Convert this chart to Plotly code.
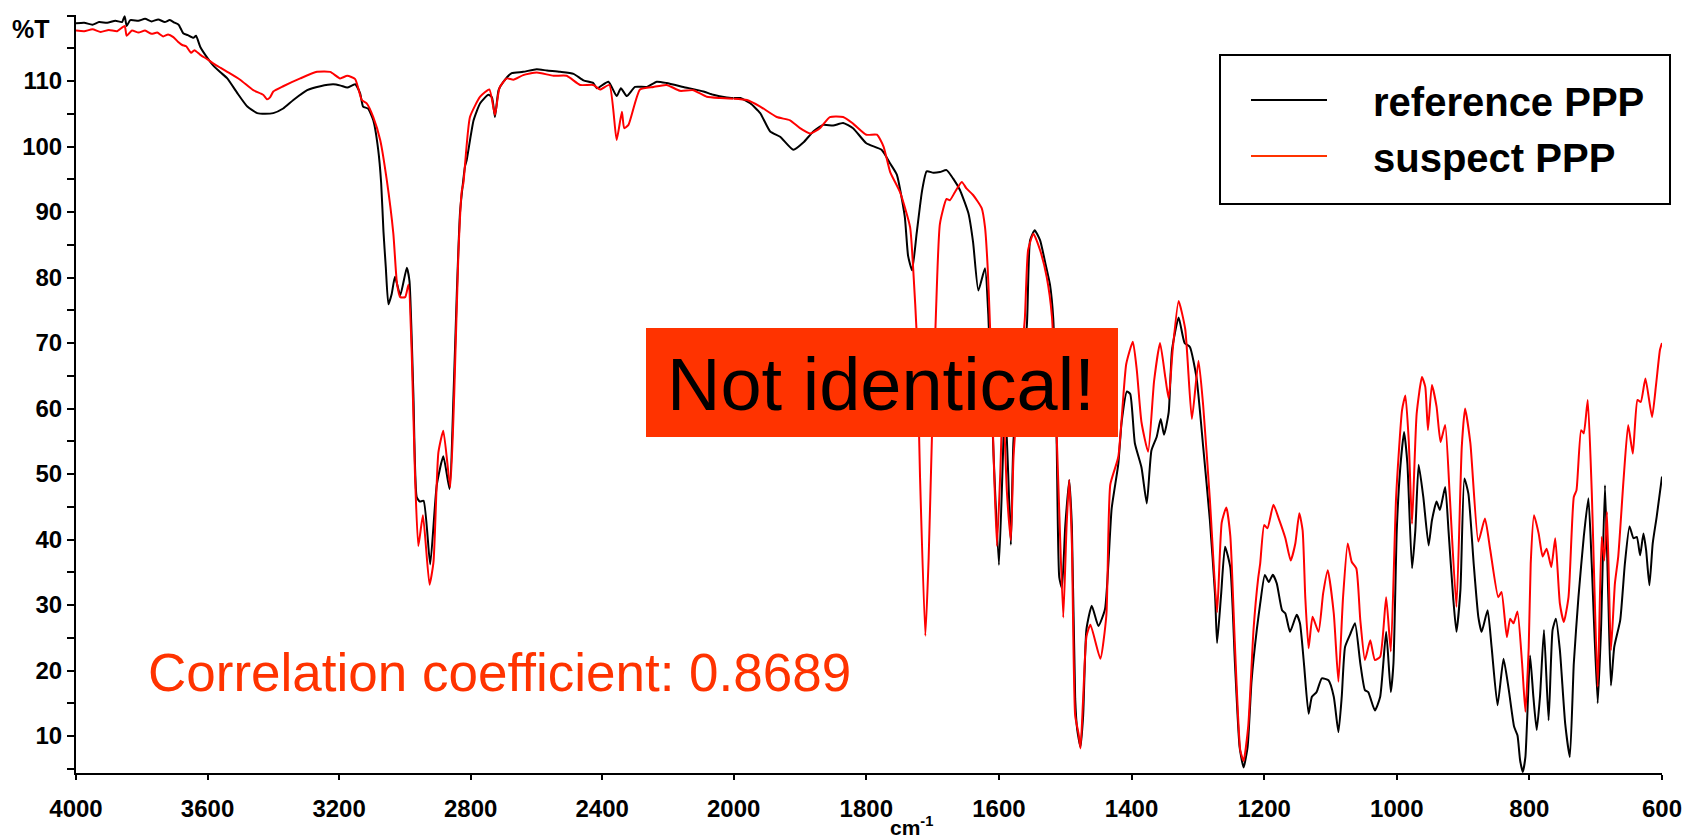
import plotly.graph_objects as go

# ---------------- data (wavenumber cm-1, %T) ----------------
wn_ref = [4000, 3975, 3950, 3930, 3905, 3880, 3860, 3852, 3846, 3835, 3810, 3790, 3770, 3750, 3730, 3715,
          3700, 3688, 3674, 3660, 3643, 3635, 3622, 3600, 3583, 3560, 3540, 3510, 3479, 3449, 3425, 3400,
          3370, 3339, 3297, 3257, 3218, 3195, 3175, 3151, 3136, 3127, 3112, 3096, 3081, 3072, 3065, 3058,
          3050, 3040, 3030, 3014, 2994, 2986, 2974, 2964, 2955, 2943, 2923, 2903, 2883, 2864, 2852, 2842,
          2832, 2817, 2812, 2791, 2771, 2746, 2735, 2726, 2715, 2700, 2675, 2640, 2599, 2568, 2528, 2487,
          2457, 2427, 2416, 2381, 2356, 2343, 2325, 2300, 2264, 2234, 2204, 2153, 2092, 2062, 2021, 2000,
          1990, 1975, 1960, 1945, 1930, 1910, 1895, 1880, 1865, 1850, 1835, 1820, 1800, 1777, 1764, 1754,
          1742, 1737, 1731, 1724, 1716, 1709, 1699, 1689, 1679, 1669, 1659, 1646, 1639, 1631, 1621, 1616,
          1608, 1600, 1594, 1591, 1586, 1582, 1578, 1568, 1558, 1553, 1546, 1538, 1530, 1523, 1518, 1513,
          1509, 1505, 1500, 1494, 1490, 1485, 1482, 1477, 1473, 1468, 1460, 1450, 1440, 1430, 1420, 1415,
          1407, 1402, 1395, 1385, 1377, 1370, 1362, 1356, 1351, 1344, 1339, 1329, 1320, 1312, 1302, 1292,
          1282, 1274, 1271, 1265, 1259, 1251, 1244, 1237, 1231, 1225, 1219, 1211, 1206,
          1199, 1193, 1187, 1181, 1173, 1168, 1161, 1151, 1146, 1140, 1133, 1128, 1121, 1113, 1103, 1095,
          1088, 1083, 1078, 1070, 1063, 1055, 1048, 1043, 1033, 1025, 1016, 1009, 1005, 1000, 995, 989,
          984, 977, 972, 967, 960, 952, 947, 940, 935, 927, 922, 915, 910, 904, 898, 892,
          884, 877, 872, 863, 857, 848, 839, 831, 823, 818, 814, 810, 806, 799, 794, 789,
          784, 778, 771, 765, 760, 754, 746, 739, 733, 726, 718, 711, 706, 697, 692, 686,
          681, 677, 672, 663, 656, 649, 643, 638, 633, 628, 624, 619, 614, 608, 600]
t_ref = [118.8, 118.9, 118.6, 119.0, 118.9, 119.2, 119.0, 119.9, 118.4, 119.3, 119.2, 119.5, 119.1, 119.4, 119.0, 119.3,
         118.9, 118.6, 117.3, 117.0, 116.6, 116.9, 115.2, 113.5, 112.4, 111.3, 110.4, 108.2, 106.1, 105.1, 105.0, 105.1,
         105.8, 107.1, 108.6, 109.2, 109.5, 109.3, 109.0, 109.5, 108.1, 106.1, 105.8, 104.0, 99.5, 94.4, 87.0, 81.6,
         75.9, 77.5, 80.1, 77.3, 81.5, 79.5, 62.1, 46.5, 45.8, 45.9, 36.2, 48.3, 52.7, 47.7, 62.1, 77.6,
         90.1, 97.0, 97.9, 104.0, 106.6, 107.9, 107.5, 104.5, 108.6, 109.9, 111.2, 111.4, 111.8, 111.6, 111.4, 111.1,
         110.1, 109.7, 108.9, 109.9, 107.7, 108.9, 107.7, 109.1, 109.1, 109.9, 109.7, 109.1, 108.4, 107.9, 107.5, 107.4,
         107.4, 106.6, 105.1, 102.3, 101.5, 99.5, 100.6, 102.3, 103.3, 103.2, 103.6, 102.8, 100.5, 99.5, 97.4, 95.7,
         89.3, 83.3, 81.1, 86.8, 93.2, 96.2, 96.0, 96.1, 96.4, 95.1, 93.4, 89.8, 85.4, 78.0, 81.4, 74.3,
         52.7, 36.1, 52.6, 62.0, 50.0, 39.2, 55.2, 65.0, 72.5, 85.7, 87.2, 85.7, 82.2, 78.9, 73.6, 55.2,
         34.2, 32.6, 42.0, 49.1, 42.0, 15.7, 11.0, 8.3, 13.1, 26.3, 29.9, 26.8, 29.4, 44.7, 51.5, 57.9,
         62.6, 62.2, 54.7, 51.0, 45.5, 53.6, 55.7, 58.4, 56.0, 59.4, 68.9, 73.9, 70.0, 69.4, 64.7, 54.2,
         43.1, 31.5, 24.2, 31.5, 38.9, 35.7, 21.0, 8.3, 5.2, 8.3, 18.4, 26.3, 30.2,
         34.6, 33.5, 34.6, 33.3, 29.2, 28.7, 25.9, 28.5, 27.2, 21.1, 13.4, 16.0, 16.7, 18.8, 18.5, 16.0,
         10.6, 16.0, 23.6, 25.6, 27.2, 21.1, 17.0, 16.7, 13.9, 16.0, 25.9, 16.7, 21.1, 41.4, 50.6, 56.4,
         51.6, 35.6, 41.4, 51.4, 46.5, 39.1, 42.9, 45.8, 44.5, 48.0, 41.4, 31.2, 25.9, 32.3, 49.3, 47.0,
         36.3, 28.2, 25.9, 29.2, 23.6, 14.7, 21.8, 17.0, 11.4, 10.1, 6.3, 4.5, 6.8, 22.3, 16.0, 10.9,
         16.0, 26.2, 12.4, 26.2, 27.9, 23.1, 11.9, 6.8, 21.1, 31.2, 40.4, 46.3, 36.3, 15.0, 26.2, 48.3,
         31.2, 17.7, 23.6, 27.7, 36.3, 42.0, 40.2, 40.4, 37.6, 40.9, 38.4, 33.0, 39.4, 43.5, 49.6]

wn_sus = [4000, 3975, 3950, 3925, 3900, 3875, 3852, 3846, 3830, 3810, 3790, 3770, 3753, 3735, 3720, 3704,
          3690, 3677, 3665, 3650, 3640, 3622, 3600, 3583, 3560, 3540, 3501, 3461, 3431, 3419, 3410, 3400,
          3370, 3318, 3267, 3227, 3197, 3175, 3151, 3131, 3116, 3096, 3075, 3055, 3035, 3024, 3014, 2999,
          2989, 2979, 2969, 2959, 2945, 2925, 2913, 2898, 2883, 2862, 2850, 2837, 2827, 2822, 2802, 2771,
          2743, 2726, 2712, 2690, 2670, 2640, 2599, 2548, 2508, 2467, 2427, 2406, 2378, 2356, 2340, 2333,
          2320, 2285, 2244, 2204, 2163, 2123, 2082, 2042, 2000,
          1980, 1960, 1935, 1915, 1900, 1885, 1870, 1855, 1835, 1820, 1800, 1784, 1774, 1764, 1749, 1734,
          1729, 1724, 1719, 1711, 1706, 1701, 1695, 1689, 1679, 1674, 1666, 1656, 1649, 1639, 1626, 1621,
          1617, 1613, 1608, 1603, 1598, 1594, 1588, 1582, 1578, 1568, 1561, 1556, 1548, 1538, 1528, 1520,
          1515, 1510, 1503, 1498, 1494, 1490, 1485, 1480, 1477, 1473, 1468, 1462, 1447, 1438, 1432, 1420,
          1408, 1398, 1392, 1385, 1375, 1366, 1357, 1349, 1344, 1338, 1329, 1319, 1309, 1299, 1292, 1282,
          1271, 1264, 1257, 1251, 1244, 1236, 1231, 1224, 1216, 1209, 1206,
          1200, 1195, 1186, 1178, 1168, 1160, 1153, 1147, 1142, 1138, 1133, 1127, 1118, 1111, 1104, 1095,
          1088, 1081, 1074, 1068, 1061, 1055, 1048, 1040, 1033, 1025, 1016, 1009, 1001, 992, 987, 982,
          977, 970, 962, 957, 953, 947, 940, 934, 927, 920, 910, 902, 897, 889, 877, 867,
          859, 847, 842, 834, 829, 824, 818, 811, 806, 801, 798, 793, 786, 780, 774, 767,
          761, 754, 748, 741, 733, 729, 722, 718, 712, 706, 697, 691, 687, 683, 677, 671,
          666, 658, 651, 644, 637, 632, 625, 615, 609, 603, 600]
t_sus = [117.7, 117.6, 117.9, 117.5, 117.8, 117.6, 118.4, 116.9, 117.7, 117.4, 117.7, 117.2, 117.4, 116.8, 117.1, 116.7,
         116.0, 115.5, 115.3, 114.3, 114.7, 114.0, 113.3, 112.7, 112.0, 111.4, 110.2, 108.6, 107.9, 107.2, 107.5, 108.4,
         109.2, 110.4, 111.4, 111.4, 110.4, 110.8, 110.3, 107.1, 106.6, 104.5, 101.0, 94.9, 86.7, 79.1, 77.0, 77.0,
         78.9, 68.3, 49.6, 39.0, 43.7, 33.1, 36.5, 53.3, 56.6, 48.0, 62.0, 83.9, 93.2, 94.4, 104.5, 107.6,
         108.7, 104.8, 109.0, 110.4, 110.2, 110.9, 111.3, 110.8, 110.8, 109.4, 109.4, 108.7, 109.4, 101.0, 105.3, 102.8,
         103.3, 108.7, 109.1, 109.4, 108.5, 108.6, 107.6, 107.4, 107.3,
         107.1, 106.1, 104.5, 104.0, 102.8, 102.0, 102.8, 104.5, 104.5, 103.5, 101.8, 101.8, 100.0, 96.1, 93.0, 87.7,
         80.8, 71.4, 49.6, 25.3, 37.1, 55.8, 74.5, 88.2, 92.0, 91.8, 93.1, 94.6, 93.6, 92.6, 90.6, 87.7,
         81.6, 71.4, 52.7, 39.0, 50.0, 62.0, 47.3, 39.9, 52.6, 66.0, 73.6, 84.2, 86.7, 84.2, 80.1, 74.0,
         62.0, 47.3, 28.1, 42.0, 49.1, 39.4, 13.1, 10.4, 8.1, 15.7, 25.2, 27.0, 21.8, 28.4, 48.4, 52.6,
         66.8, 70.2, 65.8, 57.9, 53.4, 64.2, 70.0, 64.7, 61.5, 68.9, 76.4, 72.1, 58.4, 67.3, 60.5, 46.3,
         28.9, 42.6, 44.9, 40.5, 23.6, 7.8, 6.2, 11.5, 26.3, 34.1, 36.3,
         42.2, 41.7, 45.3, 43.2, 40.2, 36.8, 39.4, 44.0, 41.4, 31.2, 23.4, 28.2, 25.9, 31.8, 35.3, 28.7,
         18.3, 31.2, 39.4, 36.6, 35.6, 27.7, 21.6, 24.6, 21.6, 22.1, 31.2, 22.9, 46.5, 59.8, 62.0, 55.2,
         42.4, 59.2, 64.8, 63.3, 56.7, 63.6, 60.3, 54.9, 57.5, 46.5, 29.7, 54.1, 60.0, 54.7, 39.7, 43.2,
         38.4, 31.2, 32.0, 25.1, 27.9, 27.2, 29.0, 21.1, 13.7, 23.6, 36.3, 43.7, 40.9, 37.4, 38.6, 35.8,
         40.2, 30.2, 27.4, 31.2, 46.5, 47.5, 56.7, 56.2, 61.3, 47.5, 17.5, 40.4, 36.8, 44.2, 23.1, 33.3,
         37.4, 49.1, 57.5, 53.1, 61.3, 61.0, 64.6, 58.7, 63.6, 69.0, 70.0]

series_names = ["reference PPP", "suspect PPP"]
x_ticks_high = [4000, 3600, 3200, 2800, 2400, 2000]
x_ticks_low = [1800, 1600, 1400, 1200, 1000, 800, 600]
y_ticks = list(range(10, 111, 10))
corr_text = "Correlation coefficient: 0.8689"
verdict_text = "Not identical!"

# ---------------- helpers ----------------
def split(wn, t):
    hi = [(w, v) for w, v in zip(wn, t) if w >= 2000]
    lo = [(w, v) for w, v in zip(wn, t) if w <= 2000]
    return ([p[0] for p in hi], [p[1] for p in hi]), ([p[0] for p in lo], [p[1] for p in lo])

FONT = "Liberation Sans, Arial, sans-serif"
BLACK = "#000000"
RED = "#FF0000"
ORANGE = "#FF3300"

fig = go.Figure()
for wn, t, col in [(wn_ref, t_ref, BLACK), (wn_sus, t_sus, RED)]:
    (xh, yh), (xl, yl) = split(wn, t)
    line = dict(color=col, width=2, shape="spline", smoothing=0.5)
    fig.add_trace(go.Scatter(x=xh, y=yh, mode="lines", line=line,
                             xaxis="x", yaxis="y", showlegend=False, hoverinfo="skip"))
    fig.add_trace(go.Scatter(x=xl, y=yl, mode="lines", line=line,
                             xaxis="x2", yaxis="y", showlegend=False, hoverinfo="skip"))

# plot area pixel geometry
L, R, T, B = 76, 23, 15, 65
W, H = 1685, 838
PW, PH = W - L - R, H - T - B
D = (733.7 - L) / PW

def px(x):
    return (x - L) / PW

def py(y):
    return (H - B - y) / PH

axis_common = dict(showline=True, linecolor=BLACK, linewidth=2, ticks="outside", ticklen=5,
                   tickwidth=2, tickcolor=BLACK, showgrid=False, zeroline=False, automargin=False,
                   tickfont=dict(family=FONT, size=24, color=BLACK, weight="bold"),
                   ticklabelstandoff=8)

fig.update_layout(
    width=W, height=H, margin=dict(l=L, r=R, t=T, b=B, autoexpand=False),
    paper_bgcolor="white", plot_bgcolor="white", showlegend=False,
    xaxis=dict(domain=[0, D], range=[4000, 2000], tickvals=x_ticks_high,
               ticktext=[str(v) for v in x_ticks_high], anchor="y", **axis_common),
    xaxis2=dict(domain=[D, 1], range=[2000, 600], tickvals=x_ticks_low,
                ticktext=[str(v) for v in x_ticks_low], anchor="y", **axis_common),
    yaxis=dict(range=[4.35, 120.08], tickvals=y_ticks, ticktext=[str(v) for v in y_ticks], anchor="x",
               showline=True, linecolor=BLACK, linewidth=2, ticks="outside", ticklen=7,
               tickwidth=2, tickcolor=BLACK, showgrid=False, zeroline=False, automargin=False,
               minor=dict(dtick=5, tick0=0, ticks="outside", ticklen=7, tickwidth=2,
                          tickcolor=BLACK, showgrid=False),
               tickfont=dict(family=FONT, size=24, color=BLACK, weight="bold")),
)

shapes = [
    # "Not identical!" box (drawn over the curves)
    dict(type="rect", xref="paper", yref="paper", x0=px(646), x1=px(1118), y0=py(437), y1=py(328),
         fillcolor=ORANGE, line=dict(width=0), layer="above"),
    # legend frame
    dict(type="rect", xref="paper", yref="paper", x0=px(1220), x1=px(1670), y0=py(204), y1=py(55),
         fillcolor="white", line=dict(color=BLACK, width=2), layer="above"),
    dict(type="line", xref="paper", yref="paper", x0=px(1251), x1=px(1327), y0=py(100), y1=py(100),
         line=dict(color=BLACK, width=2), layer="above"),
    dict(type="line", xref="paper", yref="paper", x0=px(1251), x1=px(1327), y0=py(156), y1=py(156),
         line=dict(color=ORANGE, width=2), layer="above"),
]
fig.update_layout(shapes=shapes)

annotations = [
    dict(text=verdict_text, xref="paper", yref="paper", x=px(881), y=py(384), xanchor="center",
         yanchor="middle", showarrow=False, font=dict(family=FONT, size=74, color=BLACK)),
    dict(text=corr_text, xref="paper", yref="paper", x=px(146), y=py(672), xanchor="left",
         yanchor="middle", showarrow=False, font=dict(family=FONT, size=53, color=ORANGE)),
    dict(text="<b>" + series_names[0] + "</b>", xref="paper", yref="paper", x=px(1371), y=py(102),
         xanchor="left", yanchor="middle", showarrow=False, font=dict(family=FONT, size=40, color=BLACK)),
    dict(text="<b>" + series_names[1] + "</b>", xref="paper", yref="paper", x=px(1371), y=py(158),
         xanchor="left", yanchor="middle", showarrow=False, font=dict(family=FONT, size=40, color=BLACK)),
    dict(text="<b>%T</b>", xref="paper", yref="paper", x=px(31), y=py(29), xanchor="center",
         yanchor="middle", showarrow=False, font=dict(family=FONT, size=25, color=BLACK)),
    dict(text="<b>cm<sup>-1</sup></b>", xref="paper", yref="paper", x=px(911), y=py(826),
         xanchor="center", yanchor="middle", showarrow=False, font=dict(family=FONT, size=21, color=BLACK)),
]
fig.update_layout(annotations=annotations)

fig.write_html("out.html", config={"displayModeBar": False})
